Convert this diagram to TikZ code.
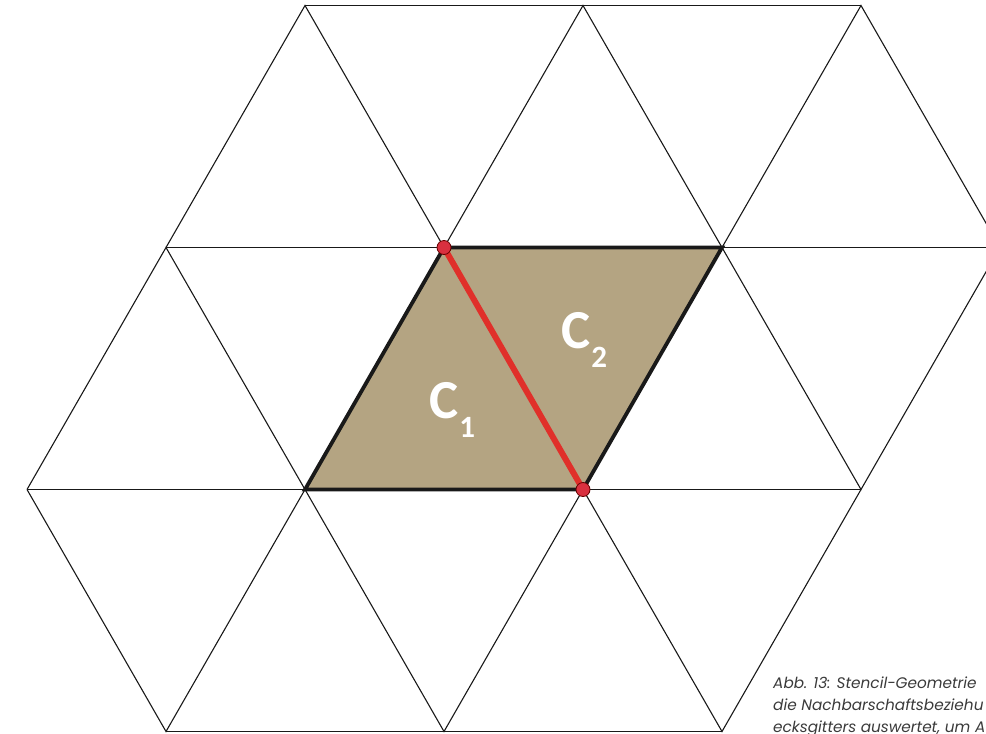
\documentclass[tikz,border=0pt]{standalone}
\usepackage{fontspec}
\setmainfont{Carlito}
\newfontfamily\capfont{Poppins}
\definecolor{rhombfill}{HTML}{B4A482}
\definecolor{redline}{HTML}{E0302A}
\definecolor{reddot}{HTML}{D9303F}
\definecolor{captiongray}{HTML}{3A3A3A}
\tikzset{
  gridline/.style={line width=1.1pt, draw=black!90},
  hline/.style={line width=1.8pt, draw=black!90},
  rhomb/.style={draw=black!90, line width=3.8pt, line join=miter},
  rededge/.style={draw=redline, line width=6pt},
  vdot/.style={circle, fill=reddot, draw=black!60!red, line width=0.8pt, minimum size=14pt, inner sep=0pt},
  clabel/.style={text=white, font=\bfseries, inner sep=0pt, anchor=base west},
  caption/.style={text=captiongray, font=\capfont\itshape\fontsize{15.3}{22}\selectfont, inner sep=0pt, anchor=base west}
}
\begin{document}
\begin{tikzpicture}[x=1pt,y=-1pt]
\useasboundingbox (0,0) rectangle (986,734);
% row 0 (y=5.5)
\coordinate (a0) at (305,5.5);
\coordinate (a1) at (583,5.5);
\coordinate (a2) at (861,5.5);
% row 1 (y=247.5)
\coordinate (b0) at (166,247.5);
\coordinate (b1) at (444,247.5);
\coordinate (b2) at (722,247.5);
\coordinate (b3) at (1000,247.5);
% row 2 (y=489.5)
\coordinate (c0) at (27,489.5);
\coordinate (c1) at (305,489.5);
\coordinate (c2) at (583,489.5);
\coordinate (c3) at (861,489.5);
% row 3 (y=731.5)
\coordinate (d0) at (166,731.5);
\coordinate (d1) at (444,731.5);
\coordinate (d2) at (722,731.5);

% shaded rhombus
\fill[rhombfill] (b1) -- (b2) -- (c2) -- (c1) -- cycle;

% horizontal lines
\draw[gridline] (a0) -- (a2);
\draw[hline] (b0) -- (b3);
\draw[hline] (c0) -- (c3);
\draw[gridline] (d0) -- (d2);

% top row diagonals
\draw[gridline] (b0) -- (a0) -- (b1) -- (a1) -- (b2) -- (a2) -- (b3);
% middle row diagonals
\draw[gridline] (c0) -- (b0) -- (c1) -- (b1) -- (c2) -- (b2) -- (c3) -- (b3);
% bottom row diagonals
\draw[gridline] (c0) -- (d0) -- (c1) -- (d1) -- (c2) -- (d2) -- (c3);

% rhombus outline
\draw[rhomb] (b1) -- (b2) -- (c2) -- (c1) -- cycle;

% red edge and vertices
\draw[rededge] (b1) -- (c2);
\node[vdot] (p1) at (b1) {};
\node[vdot] (p2) at (c2) {};

% labels
\node[clabel] (l1) at (429,418) {\fontsize{55}{55}\selectfont C\kern1pt\raisebox{-19pt}{\fontsize{31}{31}\selectfont 1}};
\node[clabel] (l2) at (561,348) {\fontsize{55}{55}\selectfont C\kern1pt\raisebox{-19pt}{\fontsize{31}{31}\selectfont 2}};

% caption
\node[caption] (cap1) at (773,688) {Abb. 13: Stencil-Geometrie};
\node[caption] (cap2) at (773,710) {die Nachbarschaftsbeziehu};
\node[caption] (cap3) at (773,732) {ecksgitters auswertet, um A};
\end{tikzpicture}
\end{document}
